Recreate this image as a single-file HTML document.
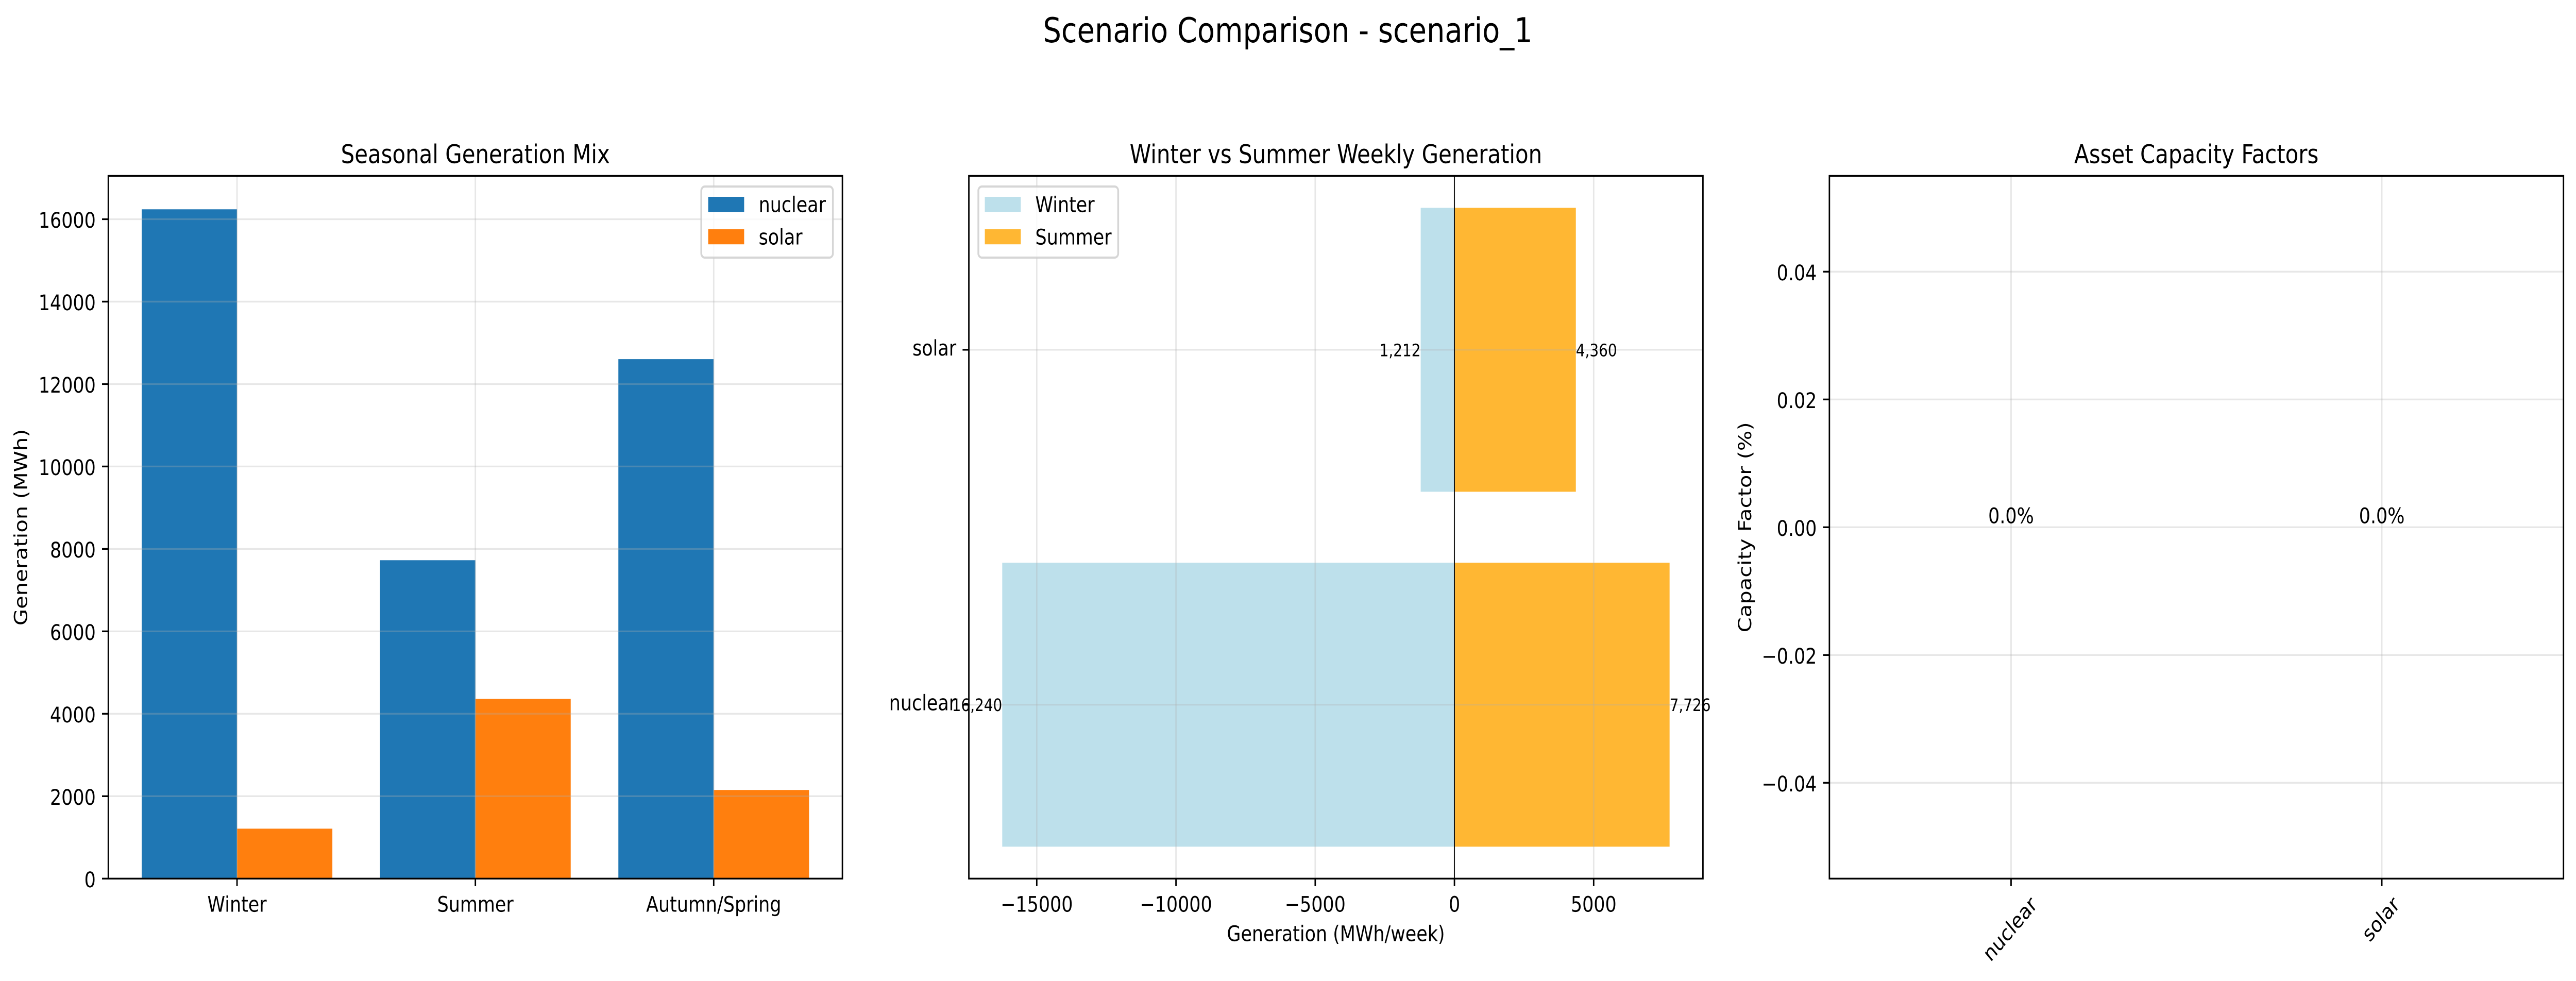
<!DOCTYPE html>
<html lang="en">
<head>
<meta charset="utf-8">
<title>Scenario Comparison - scenario_1</title>
<style>
html,body{margin:0;padding:0;background:#fff;width:100vw;height:100vh;overflow:hidden}
svg{display:block;width:100vw;height:100vh}
text{font-family:"DejaVu Sans","Liberation Sans",sans-serif;fill:#000;text-rendering:geometricPrecision}
.sup{font-size:66.67px}
.title{font-size:50px}
.lab{font-size:41.67px}
.val{font-size:33.33px}
.spine{fill:none;stroke:#000;stroke-width:3.33}
</style>
</head>
<body>
<svg id="figure" xmlns="http://www.w3.org/2000/svg" viewBox="0 0 5969 1904" preserveAspectRatio="none">
  <rect x="0" y="0" width="5969" height="1904" fill="#fff"/>
  <text class="sup" x="2984" y="82" text-anchor="middle">Scenario Comparison - scenario_1</text>

  <g>
    <rect x="251" y="341.3" width="1701" height="1364" fill="#fff"/>
    <g id="p1-bars"></g><g id="p1-grid"></g><g id="p1-ticks"></g>
    <rect class="spine" x="251" y="341.3" width="1701" height="1364"/>
    <text class="title" x="1101.5" y="316.7" text-anchor="middle">Seasonal Generation Mix</text>
    <text class="lab" transform="translate(62.7,1023.3) rotate(-90)" text-anchor="middle">Generation (MWh)</text>
    <g>
      <rect x="1625" y="362" width="305" height="138" rx="8.3" fill="#fff" fill-opacity=".8" stroke="#ccc" stroke-opacity=".8" stroke-width="4.17"/>
      <rect x="1641" y="382" width="83.3" height="29.2" fill="#1f77b4"/>
      <text class="lab" x="1758" y="411.5">nuclear</text>
      <rect x="1641" y="445" width="83.3" height="29.2" fill="#ff7f0e"/>
      <text class="lab" x="1758" y="474.5">solar</text>
    </g>
  </g>

  <g>
    <rect x="2245" y="341.3" width="1701" height="1364" fill="#fff"/>
    <g id="p2-bars"></g><g id="p2-grid"></g><g id="p2-ticks"></g>
    <line id="p2-zero" y1="341.3" y2="1705.3" stroke="#000" stroke-width="2.08"/>
    <rect class="spine" x="2245" y="341.3" width="1701" height="1364"/>
    <g id="p2-values"></g>
    <text class="title" x="3095.5" y="316.7" text-anchor="middle">Winter vs Summer Weekly Generation</text>
    <text class="lab" x="3095.5" y="1826.4" text-anchor="middle">Generation (MWh/week)</text>
    <g>
      <rect x="2267" y="362" width="324" height="138" rx="8.3" fill="#fff" fill-opacity=".8" stroke="#ccc" stroke-opacity=".8" stroke-width="4.17"/>
      <rect x="2282" y="382" width="83.3" height="29.2" fill="#add8e6" fill-opacity=".8"/>
      <text class="lab" x="2399" y="411.5">Winter</text>
      <rect x="2282" y="445" width="83.3" height="29.2" fill="#ffa500" fill-opacity=".8"/>
      <text class="lab" x="2399" y="474.5">Summer</text>
    </g>
  </g>

  <g>
    <rect x="4239" y="341.3" width="1701" height="1364" fill="#fff"/>
    <g id="p3-bars"></g><g id="p3-grid"></g><g id="p3-ticks"></g>
    <rect class="spine" x="4239" y="341.3" width="1701" height="1364"/>
    <g id="p3-values"></g>
    <text class="title" x="5089.5" y="316.7" text-anchor="middle">Asset Capacity Factors</text>
    <text class="lab" transform="translate(4058,1023.3) rotate(-90)" text-anchor="middle">Capacity Factor (%)</text>
  </g>
</svg>

<script>
// Panel 1: seasonal generation mix
const seasons = ["Winter", "Summer", "Autumn/Spring"];
const nuclearSeasonal = [16240, 7726, 12604];
const solarSeasonal = [1212, 4360, 2151];
const seasonalYTicks = [0, 2000, 4000, 6000, 8000, 10000, 12000, 14000, 16000];
const seasonalYTickLabels = ["0", "2000", "4000", "6000", "8000", "10000", "12000", "14000", "16000"];

// Panel 2: winter vs summer weekly generation
const assets = ["nuclear", "solar"];
const winterWeekly = [16240, 1212];
const summerWeekly = [7726, 4360];
const weeklyXTicks = [-15000, -10000, -5000, 0, 5000];
const weeklyXTickLabels = ["\u221215000", "\u221210000", "\u22125000", "0", "5000"];

// Panel 3: asset capacity factors
const capacityFactors = [0, 0];
const capacityYTicks = [-0.04, -0.02, 0, 0.02, 0.04];
const capacityYTickLabels = ["\u22120.04", "\u22120.02", "0.00", "0.02", "0.04"];

const NS = "http://www.w3.org/2000/svg";
const TOP = 341.3, BOTTOM = 1705.3, TICK = 14.6, PAD = 14.6;
const GRID = "#b0b0b0";

function make(parentId, tag, attrs, text) {
  const node = document.createElementNS(NS, tag);
  for (const k in attrs) node.setAttribute(k, attrs[k]);
  if (text !== undefined) node.textContent = text;
  document.getElementById(parentId).appendChild(node);
  return node;
}
function linear(d0, d1, r0, r1) {
  return function (v) { return r0 + (v - d0) * (r1 - r0) / (d1 - d0); };
}

// Axis functions
const p1X = linear(-0.54, 2.54, 251, 1952);
const p1Y = linear(0, 17052, BOTTOM, TOP);
const p2X = linear(-17438.3, 8924.3, 2245, 3946);
const p2Y = linear(-0.49, 1.49, BOTTOM, TOP);
const p3X = linear(-0.49, 1.49, 4239, 5940);
const p3Y = linear(-0.055, 0.055, BOTTOM, TOP);

function verticalGrid(parentId, x, left, name) {
  const g = make(parentId, "line", { x1: x, x2: x, y1: TOP, y2: BOTTOM, stroke: GRID, "stroke-opacity": 0.3, "stroke-width": 3.33 });
  
  
}
function horizontalGrid(parentId, y, left, name) {
  const g = make(parentId, "line", { x1: left, x2: left + 1701, y1: y, y2: y, stroke: GRID, "stroke-opacity": 0.3, "stroke-width": 3.33 });
  
  
}
function bottomTick(parentId, x, name) {
  const t = make(parentId, "line", { x1: x, x2: x, y1: BOTTOM, y2: BOTTOM + TICK, stroke: "#000", "stroke-width": 3.33 });
  
  
}
function leftTick(parentId, y, left, name) {
  const t = make(parentId, "line", { x1: left - TICK, x2: left, y1: y, y2: y, stroke: "#000", "stroke-width": 3.33 });
  
  
}
function leftLabel(parentId, y, left, label, name, dy) {
  const t = make(parentId, "text", { class: "lab", x: left - TICK - PAD, y: y + dy, "text-anchor": "end" }, label);
  
  
}

// --- Panel 1 ---
const p1BarWidth = 0.4;
seasons.forEach(function (season, i) {
  const nuc = make("p1-bars", "rect", {
    x: p1X(i - p1BarWidth), y: p1Y(nuclearSeasonal[i]),
    width: p1X(i) - p1X(i - p1BarWidth), height: p1Y(0) - p1Y(nuclearSeasonal[i]), fill: "#1f77b4"
  });
  
  
  const sol = make("p1-bars", "rect", {
    x: p1X(i), y: p1Y(solarSeasonal[i]),
    width: p1X(i + p1BarWidth) - p1X(i), height: p1Y(0) - p1Y(solarSeasonal[i]), fill: "#ff7f0e"
  });
  
  
  verticalGrid("p1-grid", p1X(i), 251, "seasonal-x-gridline-" + i);
  bottomTick("p1-ticks", p1X(i), "seasonal-x-tick-" + i);
  const lab = make("p1-ticks", "text", { class: "lab", x: p1X(i), y: 1769.5, "text-anchor": "middle" }, season);
  
  
});
seasonalYTicks.forEach(function (v, i) {
  horizontalGrid("p1-grid", p1Y(v), 251, "seasonal-y-gridline-" + i);
  leftTick("p1-ticks", p1Y(v), 251, "seasonal-y-tick-" + i);
  leftLabel("p1-ticks", p1Y(v), 251, seasonalYTickLabels[i], "seasonal-y-tick-label-" + i, 16.5);
});

// --- Panel 2 ---
const p2BarHeight = 0.8;
assets.forEach(function (asset, i) {
  const yTop = p2Y(i + p2BarHeight / 2), yBot = p2Y(i - p2BarHeight / 2);
  const win = make("p2-bars", "rect", {
    x: p2X(-winterWeekly[i]), y: yTop, width: p2X(0) - p2X(-winterWeekly[i]), height: yBot - yTop,
    fill: "#add8e6", "fill-opacity": 0.8
  });
  
  
  const sum = make("p2-bars", "rect", {
    x: p2X(0), y: yTop, width: p2X(summerWeekly[i]) - p2X(0), height: yBot - yTop,
    fill: "#ffa500", "fill-opacity": 0.8
  });
  
  
  horizontalGrid("p2-grid", p2Y(i), 2245, "weekly-y-gridline-" + asset);
  leftTick("p2-ticks", p2Y(i), 2245, "weekly-y-tick-" + asset);
  leftLabel("p2-ticks", p2Y(i), 2245, asset, "weekly-y-tick-label-" + asset, 11);
  const wl = make("p2-values", "text", { class: "val", x: p2X(-winterWeekly[i]), y: p2Y(i) + 12.5, "text-anchor": "end" }, winterWeekly[i].toLocaleString("en-US"));
  
  
  const sl = make("p2-values", "text", { class: "val", x: p2X(summerWeekly[i]), y: p2Y(i) + 12.5, "text-anchor": "start" }, summerWeekly[i].toLocaleString("en-US"));
  
  
});
weeklyXTicks.forEach(function (v, i) {
  verticalGrid("p2-grid", p2X(v), 2245, "weekly-x-gridline-" + i);
  bottomTick("p2-ticks", p2X(v), "weekly-x-tick-" + i);
  const lab = make("p2-ticks", "text", { class: "lab", x: p2X(v), y: 1769.5, "text-anchor": "middle" }, weeklyXTickLabels[i]);
  
  
});
document.getElementById("p2-zero").setAttribute("x1", p2X(0));
document.getElementById("p2-zero").setAttribute("x2", p2X(0));

// --- Panel 3 ---
const p3BarWidth = 0.8;
assets.forEach(function (asset, i) {
  const v = capacityFactors[i];
  const bar = make("p3-bars", "rect", {
    x: p3X(i - p3BarWidth / 2), y: Math.min(p3Y(v), p3Y(0)),
    width: p3X(i + p3BarWidth / 2) - p3X(i - p3BarWidth / 2), height: Math.abs(p3Y(0) - p3Y(v)), fill: "#1f77b4"
  });
  
  
  verticalGrid("p3-grid", p3X(i), 4239, "capacity-x-gridline-" + asset);
  bottomTick("p3-ticks", p3X(i), "capacity-x-tick-" + asset);
  const lab = make("p3-ticks", "text", { class: "lab", "text-anchor": "middle" }, asset);
  
  
  const w = lab.getComputedTextLength();
  const cy = BOTTOM + TICK + PAD + (w + 45) / Math.SQRT2 / 2;
  lab.setAttribute("transform", "translate(" + p3X(i) + "," + cy + ") rotate(-45)");
  lab.setAttribute("y", 11);
  const val = make("p3-values", "text", { class: "lab", x: p3X(i), y: p3Y(v) - 8, "text-anchor": "middle" }, v.toFixed(1) + "%");
  
  
});
capacityYTicks.forEach(function (v, i) {
  horizontalGrid("p3-grid", p3Y(v), 4239, "capacity-y-gridline-" + i);
  leftTick("p3-ticks", p3Y(v), 4239, "capacity-y-tick-" + i);
  leftLabel("p3-ticks", p3Y(v), 4239, capacityYTickLabels[i], "capacity-y-tick-label-" + i, 16.5);
});
</script>
</body>
</html>
